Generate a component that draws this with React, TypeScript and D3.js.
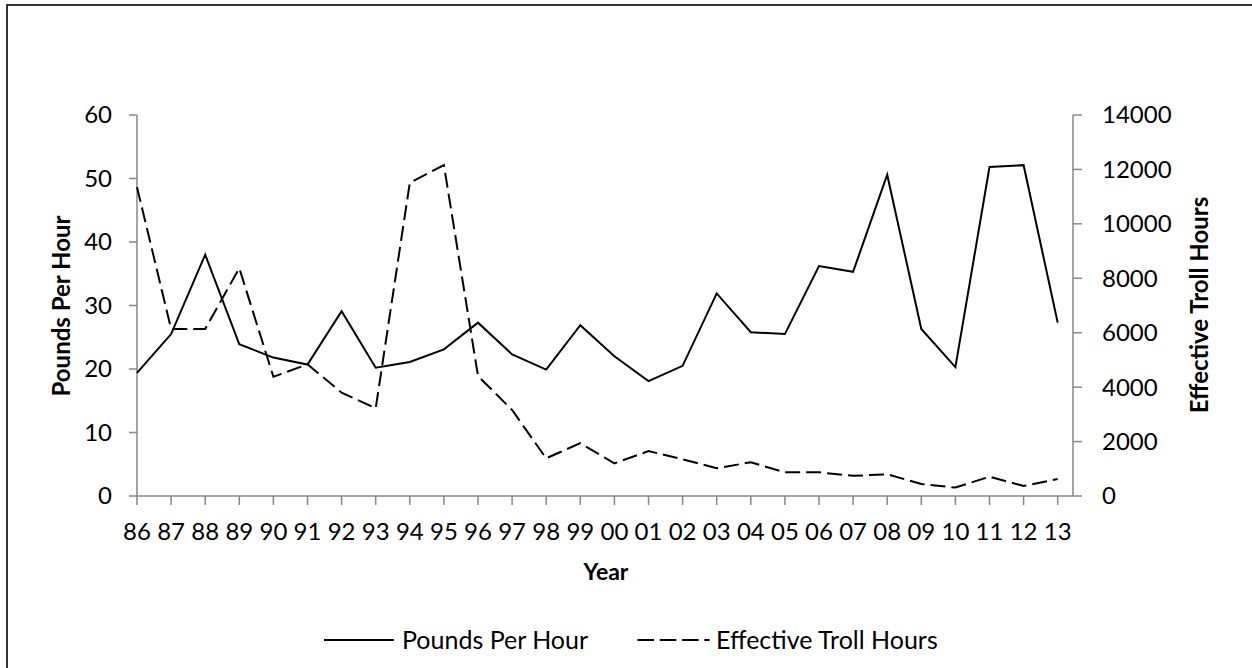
import React from "react";
import * as d3 from "d3";

const years = ["86","87","88","89","90","91","92","93","94","95","96","97","98","99","00","01","02","03","04","05","06","07","08","09","10","11","12","13"];
const poundsPerHour = [19.4,25.5,38.0,23.9,21.8,20.7,29.1,20.2,21.1,23.1,27.3,22.3,19.9,26.9,22.0,18.1,20.5,31.9,25.8,25.5,36.2,35.3,50.6,26.3,20.3,51.8,52.1,27.3];
const trollHours = [11350,6140,6140,8370,4380,4840,3800,3220,11510,12160,4410,3160,1385,1940,1200,1650,1350,1020,1240,870,870,740,800,440,310,710,370,625];
const leftTicks = [0,10,20,30,40,50,60];
const rightTicks = [0,2000,4000,6000,8000,10000,12000,14000];

const FONT = "Lato, 'Open Sans', sans-serif";
const AXIS = "#878787";
const DASH = "15,6";

export default function App() {
  const x0 = 137, x1 = 1073, yTop = 115, yBot = 496;
  const x = d3.scalePoint<string>().domain(years).range([137, 1057.7]);
  const yL = d3.scaleLinear().domain([0, 60]).range([yBot, yTop]);
  const yR = d3.scaleLinear().domain([0, 14000]).range([yBot, yTop]);
  const lineL = d3.line<number>().x((_, i) => x(years[i]) as number).y(d => yL(d));
  const lineR = d3.line<number>().x((_, i) => x(years[i]) as number).y(d => yR(d));

  return (
    <svg width={1252} height={668} style={{ position: "absolute", left: 0, top: 0, background: "#fff" }}>
      <rect x={7} y={5} width={1300} height={700} fill="#fff" stroke="#000" strokeWidth={1.6} />
      {/* left axis */}
      <line x1={x0} x2={x0} y1={yTop} y2={yBot} stroke={AXIS} strokeWidth={1.5} />
      {leftTicks.map(t => (
        <g key={"l" + t}>
          <line x1={x0 - 8} x2={x0} y1={yL(t)} y2={yL(t)} stroke={AXIS} strokeWidth={1.5} />
          <text x={112} y={yL(t)} dy="0.35em" textAnchor="end" fontFamily={FONT} fontSize={24} fill="#000">{t}</text>
        </g>
      ))}
      {/* right axis */}
      <line x1={x1} x2={x1} y1={yTop} y2={yBot} stroke={AXIS} strokeWidth={1.5} />
      {rightTicks.map(t => (
        <g key={"r" + t}>
          <line x1={x1} x2={x1 + 9} y1={yR(t)} y2={yR(t)} stroke={AXIS} strokeWidth={1.5} />
          <text x={1102} y={yR(t)} dy="0.35em" textAnchor="start" fontFamily={FONT} fontSize={24} fill="#000">{t}</text>
        </g>
      ))}
      {/* x axis */}
      <line x1={x0} x2={x1} y1={yBot} y2={yBot} stroke={AXIS} strokeWidth={1.5} />
      {years.map(yr => (
        <g key={"x" + yr}>
          <line x1={x(yr)} x2={x(yr)} y1={yBot} y2={yBot + 9} stroke={AXIS} strokeWidth={1.5} />
          <text x={x(yr)} y={532} dy="0.35em" textAnchor="middle" fontFamily={FONT} fontSize={24} fill="#000">{yr}</text>
        </g>
      ))}
      {/* series */}
      <path d={lineR(trollHours) || ""} fill="none" stroke="#000" strokeWidth={2} strokeDasharray={DASH} />
      <path d={lineL(poundsPerHour) || ""} fill="none" stroke="#000" strokeWidth={2} />
      {/* axis titles */}
      <text transform="translate(62,306) rotate(-90)" textAnchor="middle" dy="0.35em" fontFamily={FONT} fontWeight="bold" fontSize={24} fill="#000">Pounds Per Hour</text>
      <text transform="translate(1200,305) rotate(-90)" textAnchor="middle" dy="0.35em" fontFamily={FONT} fontWeight="bold" fontSize={24} fill="#000">Effective Troll Hours</text>
      <text x={606} y={572} dy="0.35em" textAnchor="middle" fontFamily={FONT} fontWeight="bold" fontSize={23} fill="#000">Year</text>
      {/* legend */}
      <line x1={324} x2={394} y1={640} y2={640} stroke="#000" strokeWidth={2} />
      <text x={402} y={640} dy="0.35em" fontFamily={FONT} fontSize={25} fill="#000">Pounds Per Hour</text>
      <line x1={637.5} x2={709.5} y1={640} y2={640} stroke="#000" strokeWidth={2} strokeDasharray="16.5,5.8" />
      <text x={716} y={640} dy="0.35em" fontFamily={FONT} fontSize={25} fill="#000">Effective Troll Hours</text>
    </svg>
  );
}
